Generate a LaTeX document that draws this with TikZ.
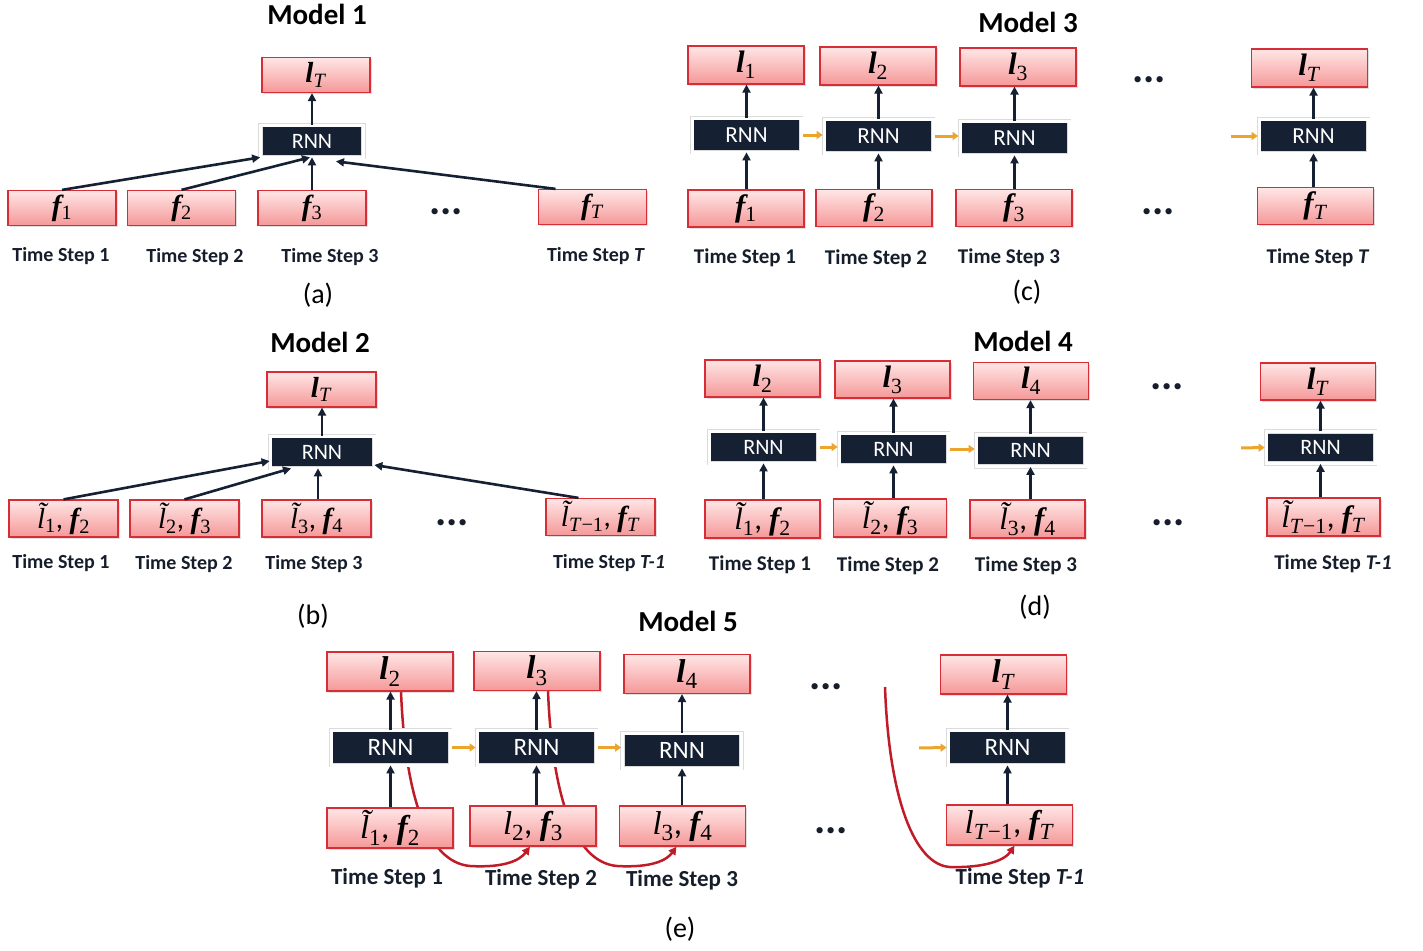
\documentclass[tikz,border=0pt]{standalone}
\usepackage{fontspec}
\setmainfont{Carlito}
\newfontfamily\mfont{Liberation Serif}
\newcommand\mv[2]{{\mfont\bfseries\itshape #1}\textsubscript{\mfont #2}}
\newcommand\mn[2]{{\mfont\itshape #1}\textsubscript{\mfont #2}}
\newcommand\mt[2]{{\mfont\itshape\~{l}}\textsubscript{\mfont #2}}
\usetikzlibrary{arrows.meta,shadows}
\definecolor{navy}{RGB}{21,32,51}
\definecolor{navytext}{RGB}{22,30,44}
\definecolor{pinktop}{RGB}{255,230,230}
\definecolor{pinkbot}{RGB}{245,152,152}
\definecolor{boxred}{RGB}{215,45,55}
\definecolor{orng}{RGB}{235,165,45}
\definecolor{redc}{RGB}{192,28,40}
\pgfdeclarelayer{bg}
\pgfsetlayers{bg,main}
\tikzset{
  pbox/.style={rectangle, draw=boxred, line width=1.2pt, top color=pinktop, bottom color=pinkbot,
    inner sep=0pt, drop shadow={shadow xshift=1.5pt, shadow yshift=-1.5pt, opacity=0.25}},
  rnnbox/.style={rectangle, fill=navy, draw=black!14, double=white, double distance=3pt, line width=0.7pt,
    text=white, inner sep=0pt,
    drop shadow={shadow xshift=1.2pt, shadow yshift=-1.2pt, opacity=0.25, fill=gray}},
  mA/.style={font=\fontsize{29}{30}\selectfont},
  mC/.style={font=\fontsize{31}{32}\selectfont},
  mE/.style={font=\fontsize{33}{34}\selectfont},
  title/.style={font=\fontsize{29}{34}\selectfont\bfseries, text=black},
  lab/.style={font=\fontsize{#1}{22}\selectfont\bfseries, text=navytext},
  lab/.default=20,
  capt/.style={font=\fontsize{28}{32}\selectfont, text=black},
  ddots/.style={font=\fontsize{42}{42}\selectfont\bfseries, text=navytext, anchor=base, inner sep=0pt},
  arr/.style={draw=navy, line width=2.6pt, -{Triangle[length=8pt,width=8pt]}},
  oarr/.style={draw=orng, line width=3pt, -{Triangle[length=6pt,width=8pt]}, shorten <=2pt, shorten >=1pt},
  rarr/.style={draw=redc, line width=2.5pt, -{Triangle[length=8pt,width=8pt]}},
}
\begin{document}
\begin{tikzpicture}[x=1pt,y=-1pt]
\useasboundingbox (0,0) rectangle (1423,950);
% ================= (a) Model 1
\node[title] (t1) at (317,14) {Model 1};
\node[pbox,mA,minimum width=108,minimum height=35] (a_l) at (316,75) {\mv{l}{\textit{T}}};
\node[rnnbox,font=\fontsize{22}{24}\selectfont,minimum width=103,minimum height=32] (a_r) at (312,141) {RNN};
\node[pbox,mA,minimum width=108,minimum height=35] (a_f1) at (62,208) {\mv{f}{1}};
\node[pbox,mA,minimum width=108,minimum height=35] (a_f2) at (181.5,208) {\mv{f}{2}};
\node[pbox,mA,minimum width=108,minimum height=35] (a_f3) at (312,208) {\mv{f}{3}};
\node[pbox,mA,minimum width=108,minimum height=35] (a_fT) at (592.5,207) {\mv{f}{\textit{T}}};
\node[ddots] (a_d) at (446,214) {...};
\node[lab] (a_s1) at (61,256) {Time Step 1};
\node[lab] (a_s2) at (195,257) {Time Step 2};
\node[lab] (a_s3) at (330,257) {Time Step 3};
\node[lab] (a_sT) at (596,256) {Time Step \textit{T}};
\node[capt] (a_c) at (318,295) {(a)};
\draw[arr] (a_r.north) -- (a_r.north |- a_l.south);
\draw[arr] (a_f1.north) -- (a_r.south west);
\draw[arr] (a_f2.north) -- ([xshift=-2pt]a_r.south);
\draw[arr] (a_f3.north) -- (a_f3.north |- a_r.south);
\draw[arr] ([xshift=-37pt]a_fT.north) -- ([xshift=24pt,yshift=-4pt]a_r.south);
% ================= (b) Model 2
\node[title] (t2) at (320,342) {Model 2};
\node[pbox,mA,minimum width=109,minimum height=35] (b_l) at (321.5,389.5) {\mv{l}{\textit{T}}};
\node[rnnbox,font=\fontsize{22}{24}\selectfont,minimum width=104,minimum height=32] (b_r) at (322,452) {RNN};
\node[pbox,mA,minimum width=109,minimum height=37] (b_b1) at (63.5,518.5) {\mt{l}{1}, \mv{f}{2}};
\node[pbox,mA,minimum width=109,minimum height=37] (b_b2) at (184.5,518.5) {\mt{l}{2}, \mv{f}{3}};
\node[pbox,mA,minimum width=109,minimum height=37] (b_b3) at (316.5,518.5) {\mt{l}{3}, \mv{f}{4}};
\node[pbox,mA,minimum width=109,minimum height=37] (b_b4) at (600.5,517) {\mt{l}{\textit{T}−1}, \mv{f}{\textit{T}}};
\node[ddots] (b_d) at (452,525) {...};
\node[lab] (b_s1) at (61,563) {Time Step 1};
\node[lab] (b_s2) at (184,564) {Time Step 2};
\node[lab] (b_s3) at (314,564) {Time Step 3};
\node[lab] (b_sT) at (609,563) {Time Step \textit{T-1}};
\node[capt] (b_c) at (313,616) {(b)};
\draw[arr] (b_r.north) -- (b_r.north |- b_l.south);
\draw[arr] (b_b1.north) -- ([yshift=-9pt]b_r.west);
\draw[arr] (b_b2.north) -- ([xshift=-31pt]b_r.south);
\draw[arr] ([xshift=1.5pt]b_b3.north) -- ([xshift=1.5pt]b_b3.north |- b_r.south);
\draw[arr] ([xshift=-22pt]b_b4.north) -- ([yshift=-13pt]b_r.east);
% ================= (c) Model 3
\node[title] (t3) at (1028,22) {Model 3};
\node[pbox,mC,minimum width=116,minimum height=38] (c_t1) at (746,65) {\mv{l}{1}};
\node[pbox,mC,minimum width=116,minimum height=38] (c_t2) at (878,66) {\mv{l}{2}};
\node[pbox,mC,minimum width=116,minimum height=38] (c_t3) at (1018,67) {\mv{l}{3}};
\node[pbox,mC,minimum width=116,minimum height=38] (c_tT) at (1309.5,68) {\mv{l}{\textit{T}}};
\node[rnnbox,font=\fontsize{23}{26}\selectfont,minimum width=109,minimum height=34] (c_r1) at (746.5,135) {RNN};
\node[rnnbox,font=\fontsize{23}{26}\selectfont,minimum width=109,minimum height=34] (c_r2) at (878.5,136) {RNN};
\node[rnnbox,font=\fontsize{23}{26}\selectfont,minimum width=109,minimum height=34] (c_r3) at (1014.5,138) {RNN};
\node[rnnbox,font=\fontsize{23}{26}\selectfont,minimum width=109,minimum height=34] (c_rT) at (1313.5,136) {RNN};
\node[pbox,mC,minimum width=116,minimum height=37] (c_b1) at (746,208.5) {\mv{f}{1}};
\node[pbox,mC,minimum width=116,minimum height=37] (c_b2) at (874,208) {\mv{f}{2}};
\node[pbox,mC,minimum width=116,minimum height=37] (c_b3) at (1014,208) {\mv{f}{3}};
\node[pbox,mC,minimum width=116,minimum height=37] (c_bT) at (1315.5,206) {\mv{f}{\textit{T}}};
\node[ddots] (c_d1) at (1149,82) {...};
\node[ddots] (c_d2) at (1158,214) {...};
\node[lab=21] (c_s1) at (745,258) {Time Step 1};
\node[lab=21] (c_s2) at (876,259) {Time Step 2};
\node[lab=21] (c_s3) at (1009,258) {Time Step 3};
\node[lab=21] (c_sT) at (1318,258) {Time Step \textit{T}};
\node[capt] (c_c) at (1027,292) {(c)};
\foreach \i in {1,2,3,T}{
  \draw[arr] (c_r\i.north) -- (c_r\i.north |- c_t\i.south);
  \draw[arr] (c_r\i.south |- c_b\i.north) -- (c_r\i.south);
}
\draw[oarr] (c_r1.east) -- (c_r1.east -| c_r2.west);
\draw[oarr] (c_r2.east) -- (c_r2.east -| c_r3.west);
\coordinate (c_in) at (1229,136);
\draw[oarr] (c_in) -- (c_rT.west);
% ================= (d) Model 4
\node[title] (t4) at (1023,341) {Model 4};
\node[pbox,mC,minimum width=115,minimum height=37] (d_t1) at (762.5,378.5) {\mv{l}{2}};
\node[pbox,mC,minimum width=115,minimum height=37] (d_t2) at (892.5,379.5) {\mv{l}{3}};
\node[pbox,mC,minimum width=115,minimum height=37] (d_t3) at (1031,381) {\mv{l}{4}};
\node[pbox,mC,minimum width=115,minimum height=37] (d_tT) at (1318,381.5) {\mv{l}{\textit{T}}};
\node[rnnbox,font=\fontsize{22}{26}\selectfont,minimum width=109,minimum height=32] (d_r1) at (763.5,447) {RNN};
\node[rnnbox,font=\fontsize{22}{26}\selectfont,minimum width=109,minimum height=32] (d_r2) at (893.5,449) {RNN};
\node[rnnbox,font=\fontsize{22}{26}\selectfont,minimum width=109,minimum height=32] (d_r3) at (1030.5,450.5) {RNN};
\node[rnnbox,font=\fontsize{22}{26}\selectfont,minimum width=109,minimum height=32] (d_rT) at (1320.5,447.5) {RNN};
\node[pbox,mC,minimum width=115,minimum height=38] (d_b1) at (762.5,519) {\mt{l}{1}, \mv{f}{2}};
\node[pbox,mC,minimum width=113,minimum height=38] (d_b2) at (890,518) {\mt{l}{2}, \mv{f}{3}};
\node[pbox,mC,minimum width=115,minimum height=38] (d_b3) at (1027.5,519) {\mt{l}{3}, \mv{f}{4}};
\node[pbox,mC,minimum width=113,minimum height=38] (d_bT) at (1323.5,517) {\mt{l}{\textit{T}−1}, \mv{f}{\textit{T}}};
\node[ddots] (d_d1) at (1167,389) {...};
\node[ddots] (d_d2) at (1168,525) {...};
\node[lab=21] (d_s1) at (760,565) {Time Step 1};
\node[lab=21] (d_s2) at (888,566) {Time Step 2};
\node[lab=21] (d_s3) at (1026,566) {Time Step 3};
\node[lab=21] (d_sT) at (1333,564) {Time Step \textit{T-1}};
\node[capt] (d_c) at (1035,607) {(d)};
\foreach \i in {1,2,3,T}{
  \draw[arr] (d_r\i.north) -- (d_r\i.north |- d_t\i.south);
  \draw[arr] (d_r\i.south |- d_b\i.north) -- (d_r\i.south);
}
\draw[oarr] (d_r1.east) -- (d_r1.east -| d_r2.west);
\draw[oarr] (d_r2.east) -- (d_r2.east -| d_r3.west);
\coordinate (d_in) at (1239,448);
\draw[oarr] (d_in) -- (d_rT.west);
% ================= (e) Model 5
\node[title] (t5) at (688,621) {Model 5};
\node[pbox,mE,minimum width=126,minimum height=39] (e_t1) at (390,671.5) {\mv{l}{2}};
\node[pbox,mE,minimum width=126,minimum height=39] (e_t2) at (537,671) {\mv{l}{3}};
\node[pbox,mE,minimum width=126,minimum height=39] (e_t3) at (687,674) {\mv{l}{4}};
\node[pbox,mE,minimum width=126,minimum height=39] (e_tT) at (1003.5,674.5) {\mv{l}{\textit{T}}};
\node[rnnbox,font=\fontsize{25}{28}\selectfont,minimum width=119,minimum height=35] (e_r1) at (390.5,747.5) {RNN};
\node[rnnbox,font=\fontsize{25}{28}\selectfont,minimum width=119,minimum height=35] (e_r2) at (536.5,747.5) {RNN};
\node[rnnbox,font=\fontsize{25}{28}\selectfont,minimum width=119,minimum height=35] (e_r3) at (682,750.5) {RNN};
\node[rnnbox,font=\fontsize{25}{28}\selectfont,minimum width=119,minimum height=35] (e_rT) at (1007.5,747.5) {RNN};
\node[pbox,mE,minimum width=126,minimum height=40] (e_b1) at (390,828) {\mt{l}{1}, \mv{f}{2}};
\node[pbox,mE,minimum width=126,minimum height=40] (e_b2) at (533,826) {\mn{l}{2}, \mv{f}{3}};
\node[pbox,mE,minimum width=126,minimum height=40] (e_b3) at (682.5,826) {\mn{l}{3}, \mv{f}{4}};
\node[pbox,mE,minimum width=126,minimum height=40] (e_bT) at (1009.5,825) {\mn{l}{\textit{T}−1}, \mv{f}{\textit{T}}};
\node[ddots] (e_d1) at (826,689) {...};
\node[ddots] (e_d2) at (831,833) {...};
\node[lab=23] (e_s1) at (387,878) {Time Step 1};
\node[lab=23] (e_s2) at (541,879) {Time Step 2};
\node[lab=23] (e_s3) at (682,880) {Time Step 3};
\node[lab=23] (e_sT) at (1020,878) {Time Step \textit{T-1}};
\node[capt] (e_c) at (680,929) {(e)};
\foreach \i in {1,2,3,T}{
  \draw[arr] (e_r\i.north) -- (e_r\i.north |- e_t\i.south);
  \draw[arr] (e_r\i.south |- e_b\i.north) -- (e_r\i.south);
}
\draw[oarr] (e_r1.east) -- (e_r1.east -| e_r2.west);
\draw[oarr] (e_r2.east) -- (e_r2.east -| e_r3.west);
\coordinate (e_in) at (917,748);
\draw[oarr] (e_in) -- (e_rT.west);
\coordinate (e_free) at (885,687);
\begin{pgfonlayer}{bg}
\draw[rarr] ([xshift=11pt]e_t1.south) .. controls (405,790) and (425,862) .. (470,866) .. controls (505,868) and (520,860) .. ([xshift=-3pt]e_b2.south);
\draw[rarr] ([xshift=11pt]e_t2.south) .. controls (552,790) and (572,862) .. (617,866) .. controls (652,868) and (667,860) .. ([xshift=-6pt]e_b3.south);
\draw[rarr] (e_free) .. controls (889,800) and (915,865) .. (950,867) .. controls (985,868) and (1005,860) .. ([xshift=5pt]e_bT.south);
\end{pgfonlayer}
\end{tikzpicture}
\end{document}
